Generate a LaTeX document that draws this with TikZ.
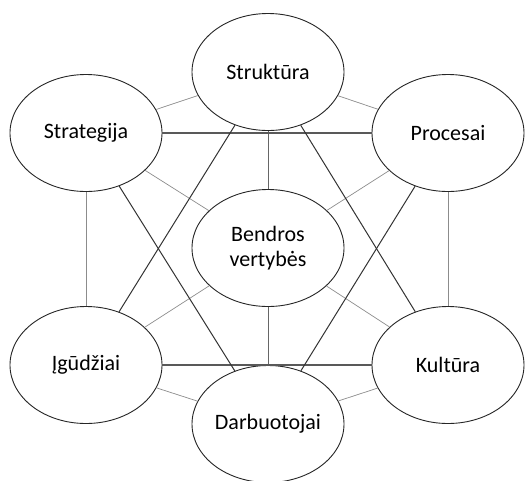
\documentclass[tikz,border=0pt]{standalone}
\usepackage{fontspec}
\setmainfont{Carlito}
\usepackage{tikz}
\usetikzlibrary{shapes.geometric}
\usetikzlibrary{positioning}

\begin{document}
\begin{tikzpicture}[x=1pt,y=-1pt,
	elem/.style={ellipse,draw=black!85,line width=0.9pt,fill=white,minimum width=152pt,minimum height=117pt,inner sep=0pt,align=center,font=\fontsize{22}{25}\selectfont},
	strong/.style={draw=black!80,line width=1pt},
	wide/.style={draw=black!65,line width=1.5pt},
	soft/.style={draw=black!45,line width=0.7pt},
	mid/.style={draw=black!60,line width=0.8pt}]
	
	\useasboundingbox (0,0) rectangle (525,480);
	
	\node [elem] (strukt) at (268, 72) {Struktūra};
	\node [elem] (strat) at (86, 133) {Strategija};
	\node [elem] (proc) at (448, 133) {Procesai};
	\node [elem] (bendr) at (268, 248) {Bendros\\vertybės};
	\node [elem] (igud) at (86, 365) {Įgūdžiai};
	\node [elem] (kult) at (448, 365) {Kultūra};
	\node [elem] (darb) at (268, 424) {Darbuotojai};
	
	\draw [soft] (strukt)--(strat);
	\draw [soft] (strukt)--(proc);
	\draw [soft] (strat)--(igud);
	\draw [soft] (proc)--(kult);
	\draw [soft] (igud)--(darb);
	\draw [soft] (kult)--(darb);
	
	\draw [soft] (bendr)--(strat);
	\draw [soft] (bendr)--(proc);
	\draw [soft] (bendr)--(igud);
	\draw [soft] (bendr)--(kult);
	\draw [mid] (bendr)--(strukt);
	\draw [mid] (bendr)--(darb);
	
	\draw [wide] (strat)--(proc);
	\draw [wide] (igud)--(kult);
	\draw [strong] (strukt)--(igud);
	\draw [strong] (strukt)--(kult);
	\draw [strong] (strat)--(darb);
	\draw [strong] (proc)--(darb);
	\end{tikzpicture}
\end{document}
